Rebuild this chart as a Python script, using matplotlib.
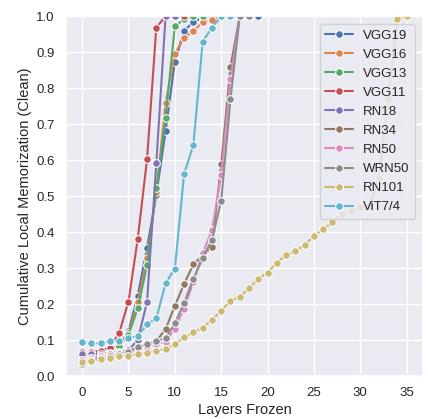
import matplotlib
matplotlib.use("Agg")
import matplotlib.pyplot as plt
import seaborn as sns

models = ["VGG19", "VGG16", "VGG13", "VGG11", "RN18", "RN34", "RN50", "WRN50", "RN101", "ViT7/4"]

vgg19 = [0.065, 0.066, 0.070, 0.075, 0.085, 0.125, 0.223, 0.356, 0.503, 0.681, 0.873, 0.959, 0.984, 0.995, 1.0, 1.0, 1.0, 1.0, 1.0, 1.0]
vgg16 = [0.065, 0.066, 0.070, 0.075, 0.085, 0.120, 0.205, 0.327, 0.510, 0.759, 0.896, 0.939, 0.959, 0.983, 0.990, 1.0, 1.0]
vgg13 = [0.065, 0.066, 0.070, 0.075, 0.084, 0.114, 0.188, 0.308, 0.521, 0.718, 0.972, 0.991, 1.0, 1.0]
vgg11 = [0.066, 0.066, 0.070, 0.079, 0.120, 0.207, 0.381, 0.602, 0.968, 1.0, 1.0, 1.0]
rn18 = [0.060, 0.060, 0.062, 0.065, 0.068, 0.072, 0.100, 0.206, 0.591, 1.0, 1.0]
rn34 = [0.045, 0.050, 0.055, 0.060, 0.063, 0.068, 0.078, 0.086, 0.097, 0.130, 0.195, 0.256, 0.310, 0.335, 0.359, 0.588, 0.859, 1.0, 1.0]
rn50 = [0.045, 0.050, 0.055, 0.060, 0.062, 0.065, 0.075, 0.080, 0.088, 0.095, 0.132, 0.187, 0.262, 0.341, 0.405, 0.558, 0.824, 1.0, 1.0]
wrn50 = [0.032, 0.045, 0.050, 0.055, 0.060, 0.068, 0.081, 0.088, 0.097, 0.105, 0.146, 0.203, 0.270, 0.327, 0.379, 0.487, 0.769, 1.0, 1.0]
rn101 = [0.040, 0.043, 0.047, 0.049, 0.056, 0.056, 0.062, 0.065, 0.070, 0.075, 0.089, 0.107, 0.121, 0.134, 0.156, 0.181,
         0.209, 0.220, 0.244, 0.270, 0.287, 0.315, 0.336, 0.347, 0.364, 0.389, 0.408, 0.427, 0.451, 0.459, 0.469, 0.472,
         0.549, 0.770, 0.993, 1.0]
vit = [0.095, 0.091, 0.091, 0.097, 0.097, 0.105, 0.111, 0.144, 0.160, 0.258, 0.298, 0.562, 0.642, 0.929, 0.968, 1.0, 1.0]

series = [vgg19, vgg16, vgg13, vgg11, rn18, rn34, rn50, wrn50, rn101, vit]

sns.set_theme(style="darkgrid")
plt.rcParams["font.family"] = ["Liberation Sans", "DejaVu Sans"]

fig = plt.figure(figsize=(4.28, 4.19), dpi=100)
ax = fig.add_axes([0.154, 0.1026, 0.834, 0.859])
colors = sns.color_palette("deep", 10)

for name, vals, c in zip(models, series, colors):
    ax.plot(range(len(vals)), vals, marker="o", color=c, label=name, lw=1.5,
            ms=5.5, mec="white", mew=0.75)

ax.set_ylim(0, 1.0)
ax.set_yticks([i / 10 for i in range(11)])
ax.set_xticks(range(0, 36, 5))
ax.tick_params(labelsize=9.5, pad=2)
ax.set_xlabel("Layers Frozen", fontsize=10.5, labelpad=3)
ax.set_ylabel("Cumulative Local Memorization (Clean)", fontsize=10.5, labelpad=3)
ax.legend(loc="upper right", fontsize=9.5, handlelength=2.1, labelspacing=0.52,
          borderaxespad=0.6)

fig.savefig("out.png", dpi=100)
